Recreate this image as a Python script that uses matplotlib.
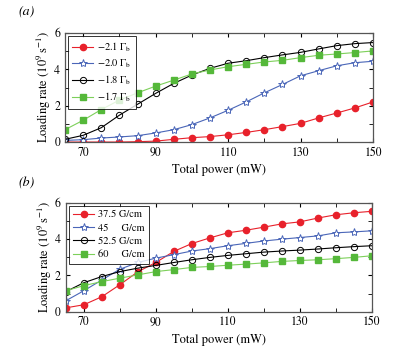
import numpy as np
import matplotlib
matplotlib.use('Agg')
import matplotlib.pyplot as plt

plt.rcParams['font.family'] = 'STIXGeneral'
plt.rcParams['mathtext.fontset'] = 'stix'

# total power (mW)
power = [65, 70, 75, 80, 85, 90, 95, 100, 105, 110, 115, 120, 125, 130, 135, 140, 145, 150]

# (a) detuning series
det_21 = [0.0, 0.0, 0.0, 0.0, 0.02, 0.05, 0.15, 0.24, 0.30, 0.40, 0.53, 0.68, 0.85, 1.03, 1.33, 1.60, 1.88, 2.21]
det_20 = [0.09, 0.13, 0.22, 0.28, 0.35, 0.50, 0.68, 0.96, 1.33, 1.75, 2.21, 2.71, 3.17, 3.65, 3.93, 4.20, 4.37, 4.45]
det_18 = [0.15, 0.37, 0.79, 1.48, 2.08, 2.68, 3.23, 3.69, 4.06, 4.34, 4.48, 4.65, 4.80, 4.94, 5.13, 5.31, 5.42, 5.48]
det_17 = [0.68, 1.20, 1.79, 2.31, 2.71, 3.08, 3.41, 3.75, 3.97, 4.15, 4.28, 4.41, 4.50, 4.65, 4.78, 4.85, 4.93, 5.02]

# (b) gradient series
g_375 = [0.22, 0.39, 0.83, 1.49, 2.20, 2.71, 3.32, 3.75, 4.06, 4.34, 4.48, 4.65, 4.83, 4.94, 5.15, 5.33, 5.44, 5.52]
g_45 = [0.61, 1.16, 1.75, 2.34, 2.71, 2.95, 3.14, 3.34, 3.47, 3.63, 3.76, 3.89, 3.99, 4.08, 4.17, 4.34, 4.39, 4.45]
g_525 = [1.11, 1.60, 1.94, 2.21, 2.40, 2.55, 2.71, 2.86, 2.99, 3.10, 3.19, 3.28, 3.34, 3.39, 3.45, 3.52, 3.58, 3.63]
g_60 = [1.16, 1.44, 1.66, 1.85, 2.03, 2.21, 2.32, 2.44, 2.49, 2.56, 2.62, 2.69, 2.77, 2.82, 2.86, 2.92, 2.99, 3.08]

labels_a = [r'$-2.1\ \mathit{\Gamma}_{\rm b}$', r'$-2.0\ \mathit{\Gamma}_{\rm b}$',
            r'$-1.8\ \mathit{\Gamma}_{\rm b}$', r'$-1.7\ \mathit{\Gamma}_{\rm b}$']
labels_b = ['37.5 G/cm', '45     G/cm', '52.5 G/cm', '60     G/cm']

red = '#e8212b'
blue = '#4a66b8'
green_line = '#7dd05a'
green = '#55b83a'

fig = plt.figure(figsize=(3.99, 3.56), dpi=100)
ax1 = fig.add_axes([0.163, 0.601, 0.772, 0.306])
ax2 = fig.add_axes([0.165, 0.124, 0.767, 0.307])


def draw(ax, series, labels):
    ax.plot(power, series[0], '-o', color=red, mfc=red, mec=red, ms=4.5, lw=0.8, label=labels[0])
    ax.plot(power, series[1], '-*', color=blue, mfc='white', mec=blue, ms=6, mew=0.7, lw=0.8, label=labels[1])
    ax.plot(power, series[2], '-o', color='black', mfc='none', mec='black', ms=4.5, mew=0.7, lw=0.8, label=labels[2])
    ax.plot(power, series[3], '-s', color=green_line, mfc=green, mec=green, ms=4.5, lw=0.8, label=labels[3])
    ax.set_xlim(65, 150)
    ax.set_ylim(0, 6)
    ax.set_xticks([70, 90, 110, 130, 150])
    ax.set_xticks([80, 100, 120, 140], minor=True)
    ax.set_yticks([0, 2, 4, 6])
    ax.set_yticks([1, 3, 5], minor=True)
    ax.tick_params(which='both', direction='in', top=True, right=True, labelsize=8.5, length=3)
    ax.set_xlabel('Total power (mW)', fontsize=9)
    ax.set_ylabel(r'Loading rate $(10^9\,\mathrm{s}^{-1})$', fontsize=9, labelpad=1)
    for s in ax.spines.values():
        s.set_color('#555555')
        s.set_linewidth(0.9)
    leg = ax.legend(loc='upper left', fontsize=7.5, frameon=True, fancybox=False,
                    edgecolor='black', handlelength=2.0, borderaxespad=0.3,
                    labelspacing=0.35, handletextpad=0.4)
    leg.get_frame().set_linewidth(0.7)


draw(ax1, [det_21, det_20, det_18, det_17], labels_a)
draw(ax2, [g_375, g_45, g_525, g_60], labels_b)

fig.text(0.045, 0.96, '(a)', fontsize=10, style='italic')
fig.text(0.045, 0.475, '(b)', fontsize=10, style='italic')

fig.savefig('out.png', dpi=100)
